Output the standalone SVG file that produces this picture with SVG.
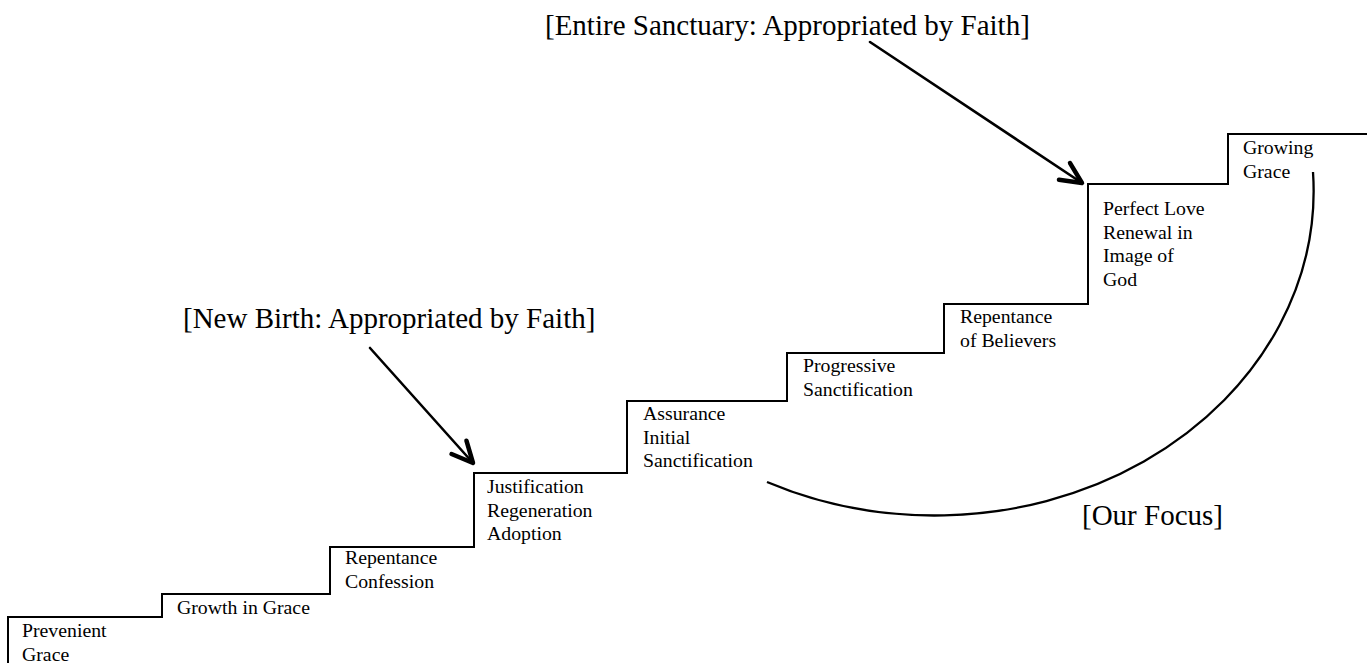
<svg xmlns="http://www.w3.org/2000/svg" width="1367" height="663" viewBox="0 0 1367 663">
<style>
.lbl{font-family:"Liberation Serif","Times New Roman",serif;font-size:19.8px;fill:#000}
.ttl{font-family:"Liberation Serif","Times New Roman",serif;font-size:29px;fill:#000}
.stairs{fill:none;stroke:#000;stroke-width:2}
.arrow{fill:none;stroke:#000;stroke-width:2.6;stroke-linecap:round}
.arc{fill:none;stroke:#000;stroke-width:2.3}
</style>
<defs>
<marker id="chev" markerUnits="userSpaceOnUse" viewBox="-28 -16 32 32" refX="0" refY="0" markerWidth="32" markerHeight="32" orient="auto" overflow="visible">
<path d="M-21,-10 L0,0 L-21,10" fill="none" stroke="#000" stroke-width="4.5" stroke-linecap="round" stroke-linejoin="round"/>
</marker>
</defs>
<rect width="1367" height="663" fill="#fff"/>
<g id="staircase">
<path class="stairs" d="M8,663 V617 H162 V594 H330 V547 H474 V473 H627 V401 H787 V353 H944 V304 H1088 V184 H1228 V134 H1367"/>
</g>
<g id="prevenient-grace"><text class="lbl" x="22" y="637"><tspan x="22">Prevenient</tspan><tspan x="22" dy="24">Grace</tspan></text></g>
<g id="growth-in-grace"><text class="lbl" x="177" y="614">Growth in Grace</text></g>
<g id="repentance-confession"><text class="lbl" x="345" y="564"><tspan x="345">Repentance</tspan><tspan x="345" dy="24">Confession</tspan></text></g>
<g id="justification"><text class="lbl" x="487" y="493"><tspan x="487">Justification</tspan><tspan x="487" dy="23.5">Regeneration</tspan><tspan x="487" dy="23.5">Adoption</tspan></text></g>
<g id="assurance"><text class="lbl" x="643" y="420"><tspan x="643">Assurance</tspan><tspan x="643" dy="23.5">Initial</tspan><tspan x="643" dy="23.5">Sanctification</tspan></text></g>
<g id="progressive"><text class="lbl" x="803" y="372"><tspan x="803">Progressive</tspan><tspan x="803" dy="23.5">Sanctification</tspan></text></g>
<g id="repentance-believers"><text class="lbl" x="960" y="323"><tspan x="960">Repentance</tspan><tspan x="960" dy="24">of Believers</tspan></text></g>
<g id="perfect-love"><text class="lbl" x="1103" y="215"><tspan x="1103">Perfect Love</tspan><tspan x="1103" dy="23.5">Renewal in</tspan><tspan x="1103" dy="23.5">Image of</tspan><tspan x="1103" dy="23.5">God</tspan></text></g>
<g id="growing-grace"><text class="lbl" x="1243" y="154"><tspan x="1243">Growing</tspan><tspan x="1243" dy="24">Grace</tspan></text></g>
<g id="entire-sanctuary"><text class="ttl" x="545" y="35">[Entire Sanctuary: Appropriated by Faith]</text></g>
<g id="new-birth"><text class="ttl" x="183" y="328">[New Birth: Appropriated by Faith]</text></g>
<g id="our-focus"><text class="ttl" x="1082" y="525">[Our Focus]</text></g>
<g id="connectors">
<path class="arrow" d="M870,42 L1082,183" marker-end="url(#chev)"/>
<path class="arrow" d="M370,348 L473,463" marker-end="url(#chev)"/>
<path class="arc" d="M767,482 A379,325 0 0 0 1313,172"/>
</g>
</svg>
